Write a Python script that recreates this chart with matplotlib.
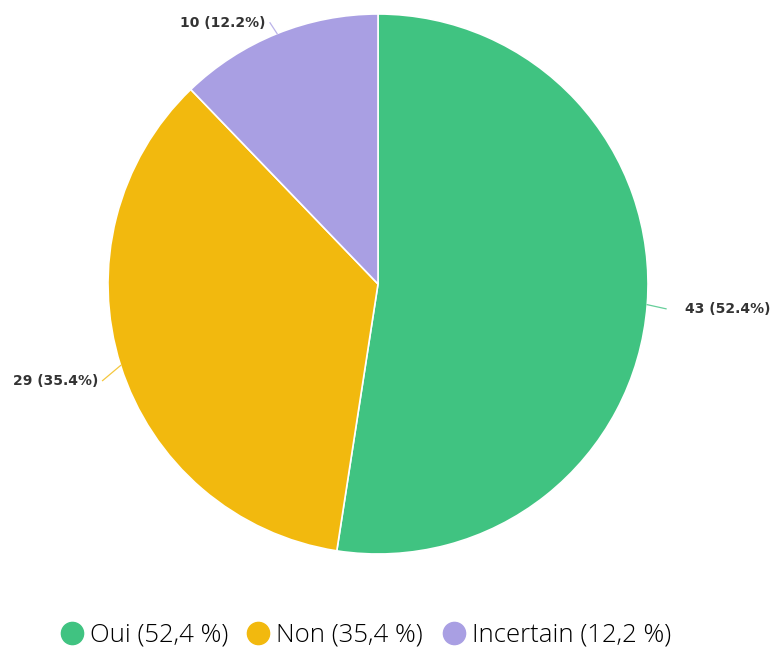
"""Pie chart: Oui / Non / Incertain."""
import numpy as np
import matplotlib
matplotlib.use("Agg")
import matplotlib.pyplot as plt
from matplotlib.lines import Line2D

labels = ["Oui", "Non", "Incertain"]
counts = [43, 29, 10]
pct_labels = ["52.4%", "35.4%", "12.2%"]
legend_pct = ["52,4 %", "35,4 %", "12,2 %"]
colors = ["#40C381", "#F2B90E", "#A99FE3"]

W, H = 776, 652
fig = plt.figure(figsize=(W / 100, H / 100), dpi=100)
cx, cy, r = 378, 284, 270
ax = fig.add_axes([(cx - r) / W, 1 - (cy + r) / H, 2 * r / W, 2 * r / H])

wedges, _ = ax.pie(counts, colors=colors, startangle=90, counterclock=False,
                   wedgeprops=dict(edgecolor="white", linewidth=1.2))
ax.set_xlim(-1, 1)
ax.set_ylim(-1, 1)
ax.set_aspect("auto")
ax.axis("off")

# outside labels with short leader lines
label_dy = [-0.01, -0.035, -0.025]   # small vertical nudges, axes units
for w, n, p, col, dy in zip(wedges, counts, pct_labels, colors, label_dy):
    ang = np.deg2rad((w.theta1 + w.theta2) / 2)
    c, s = np.cos(ang), np.sin(ang)
    ex, ey = 1.07 * c, 1.07 * s + dy
    ax.plot([c, ex], [s, ey], color=col, lw=0.9, alpha=0.8, clip_on=False)
    ha = "left" if c > 0 else "right"
    tx = ex + (0.07 if c > 0 else -0.015)
    ax.text(tx, ey, f"{n} ({p})", ha=ha, va="center", fontsize=10,
            fontweight="bold", color="#333333")

handles = [Line2D([], [], marker="o", ls="", markersize=16,
                  markerfacecolor=col, markeredgecolor=col) for col in colors]
leg_labels = [f"{l} ({p})" for l, p in zip(labels, legend_pct)]
fig.legend(handles, leg_labels, loc="center", ncol=3, frameon=False,
           bbox_to_anchor=(0.471, 1 - 635 / H), handlelength=0.9,
           handletextpad=0.25, columnspacing=0.73,
           prop=dict(family="Open Sans", weight="light", size=18.5))

fig.savefig("out.png", dpi=100, facecolor="white")
